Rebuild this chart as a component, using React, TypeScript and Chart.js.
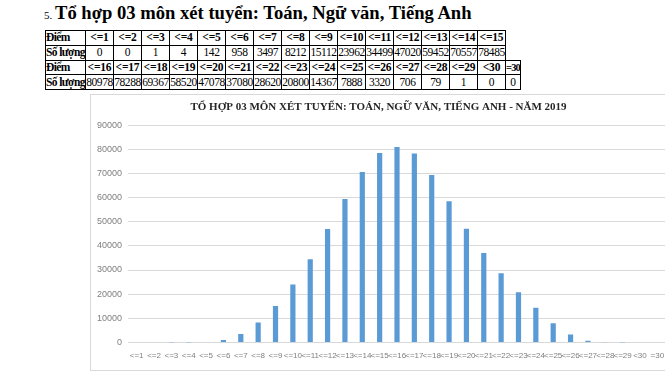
import React, { useEffect, useRef } from "react";
import { Chart, registerables } from "chart.js";

Chart.register(...registerables);

const headerTop: string[] = ["<=1", "<=2", "<=3", "<=4", "<=5", "<=6", "<=7", "<=8", "<=9", "<=10", "<=11", "<=12", "<=13", "<=14", "<=15"];
const countsTop: number[] = [0, 0, 1, 4, 142, 958, 3497, 8212, 15112, 23962, 34499, 47020, 59452, 70557, 78485];
const headerBottom: string[] = ["<=16", "<=17", "<=18", "<=19", "<=20", "<=21", "<=22", "<=23", "<=24", "<=25", "<=26", "<=27", "<=28", "<=29", "<30", "=30"];
const countsBottom: number[] = [80978, 78288, 69367, 58520, 47078, 37080, 28620, 20800, 14367, 7888, 3320, 706, 79, 1, 0, 0];

const chartLabels: string[] = [...headerTop, ...headerBottom];
const chartValues: number[] = [...countsTop, ...countsBottom];

const pageTitle = "Tổ hợp 03 môn xét tuyển: Toán, Ngữ văn, Tiếng Anh";
const chartTitle = "TỔ HỢP 03 MÔN XÉT TUYỂN: TOÁN, NGỮ VĂN, TIẾNG ANH - NĂM 2019";

const serif = "'Liberation Serif', 'Times New Roman', serif";
const sans = "'Liberation Sans', Arial, sans-serif";

const cellBase: React.CSSProperties = {
  border: "1px solid #000",
  padding: 0,
  height: 13.8,
  lineHeight: "13px",
  fontSize: 11.5,
  letterSpacing: "-0.45px",
  textAlign: "center",
  whiteSpace: "nowrap",
  overflow: "hidden",
};
const headCell: React.CSSProperties = { ...cellBase, fontWeight: "bold", letterSpacing: "-0.2px" };
const labelCell: React.CSSProperties = { ...cellBase, fontWeight: "bold", textAlign: "left", letterSpacing: "-0.6px" };
const narrowHead: React.CSSProperties = { ...headCell, fontSize: 10.5, letterSpacing: "-0.9px" };

export default function App() {
  const canvasRef = useRef<HTMLCanvasElement | null>(null);

  useEffect(() => {
    if (!canvasRef.current) return;
    const chart = new Chart(canvasRef.current, {
      type: "bar",
      data: {
        labels: chartLabels,
        datasets: [
          {
            data: chartValues,
            backgroundColor: "#5B9BD5",
            barPercentage: 0.3,
            categoryPercentage: 1,
          },
        ],
      },
      options: {
        animation: false,
        responsive: false,
        layout: { padding: { left: 0, right: 9, top: 0, bottom: 0 } },
        plugins: {
          legend: { display: false },
          tooltip: { enabled: false },
          title: {
            display: true,
            text: chartTitle,
            color: "#262626",
            font: { family: serif, size: 11, weight: "bold" },
            padding: { top: 6, bottom: 11 },
          },
        },
        scales: {
          x: {
            grid: { display: false, drawTicks: false },
            border: { display: false },
            ticks: {
              color: "#7f7f7f",
              font: { family: sans, size: 8 },
              padding: 9,
              maxRotation: 0,
              minRotation: 0,
              autoSkip: false,
            },
          },
          y: {
            min: 0,
            max: 90000,
            afterFit: (scale: any) => {
              scale.width = 37;
            },
            grid: { color: "#d9d9d9", drawTicks: false },
            border: { display: false },
            ticks: {
              stepSize: 10000,
              color: "#7f7f7f",
              font: { family: sans, size: 9 },
              padding: 6,
              callback: (v: any) => String(v),
            },
          },
        },
      },
    });
    return () => chart.destroy();
  }, []);

  const emptyCell: React.CSSProperties = { border: "none", padding: 0 };

  return (
    <div
      style={{
        position: "fixed",
        left: 0,
        top: 0,
        width: 665,
        height: 374,
        overflow: "hidden",
        background: "#fff",
        fontFamily: serif,
      }}
    >
      <div
        style={{
          position: "absolute",
          left: 44,
          top: 3,
          whiteSpace: "nowrap",
          lineHeight: "20px",
          color: "#000",
        }}
      >
        <span style={{ fontSize: 11 }}>5. </span>
        <span style={{ fontSize: 18.6, fontWeight: "bold" }}>{pageTitle}</span>
      </div>

      <table
        style={{
          position: "absolute",
          left: 45,
          top: 30,
          width: 475,
          borderCollapse: "collapse",
          tableLayout: "fixed",
          color: "#000",
        }}
      >
        <colgroup>
          <col style={{ width: 40 }} />
          {headerTop.map((_, i) => (
            <col key={i} style={{ width: 28 }} />
          ))}
          <col style={{ width: 15 }} />
        </colgroup>
        <tbody>
          <tr>
            <td style={labelCell}>Điểm</td>
            {headerTop.map((h, i) => (
              <td key={i} style={headCell}>{h}</td>
            ))}
            <td style={emptyCell}></td>
          </tr>
          <tr>
            <td style={labelCell}>Số lượng</td>
            {countsTop.map((v, i) => (
              <td key={i} style={cellBase}>{v}</td>
            ))}
            <td style={emptyCell}></td>
          </tr>
          <tr>
            <td style={labelCell}>Điểm</td>
            {headerBottom.map((h, i) => (
              <td key={i} style={i === headerBottom.length - 1 ? narrowHead : headCell}>{h}</td>
            ))}
          </tr>
          <tr>
            <td style={labelCell}>Số lượng</td>
            {countsBottom.map((v, i) => (
              <td key={i} style={cellBase}>{v}</td>
            ))}
          </tr>
        </tbody>
      </table>

      <div
        style={{
          position: "absolute",
          left: 90,
          top: 94,
          width: 600,
          height: 275,
          borderTop: "1px solid #d9d9d9",
          borderLeft: "1px solid #d9d9d9",
          borderBottom: "1px solid #d9d9d9",
        }}
      >
        <canvas ref={canvasRef} width={584} height={275} style={{ display: "block" }} />
      </div>
    </div>
  );
}
